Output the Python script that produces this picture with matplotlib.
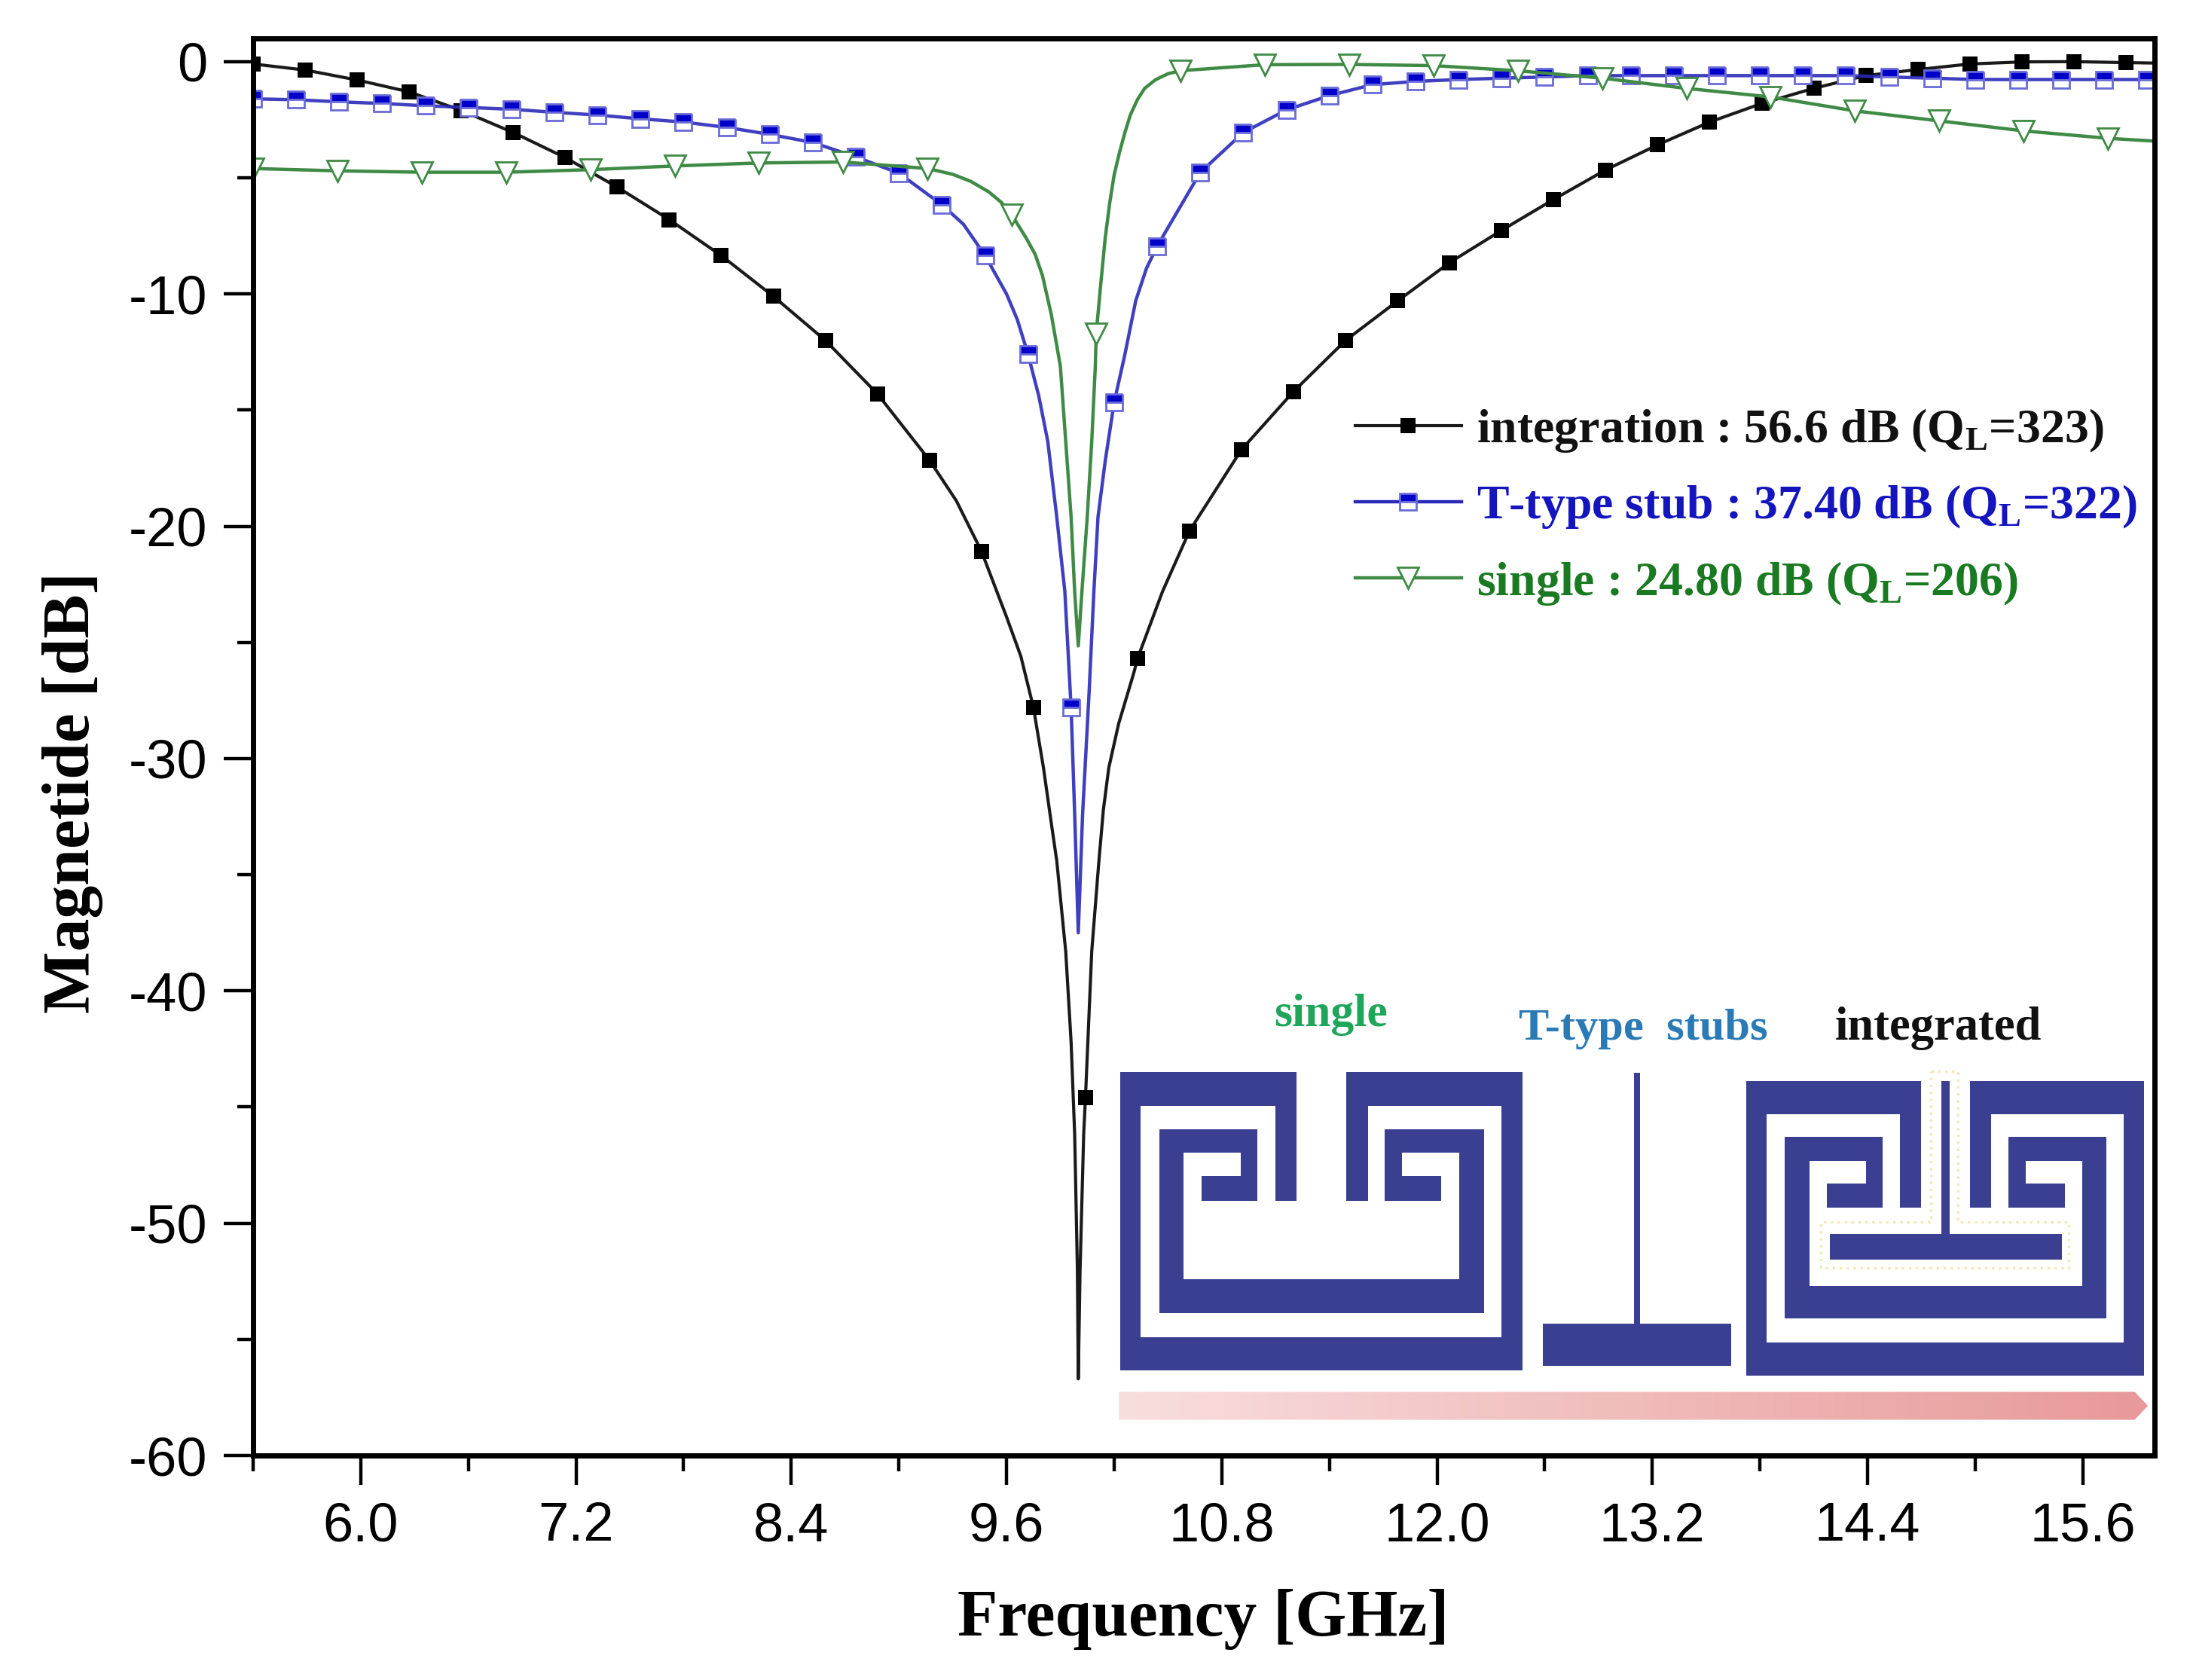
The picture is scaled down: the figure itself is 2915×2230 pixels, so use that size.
#!/usr/bin/env python3
"""Transmission response of single / T-type stub / integrated resonators."""

import matplotlib.pyplot as plt
import matplotlib
from matplotlib.lines import Line2D
from matplotlib.patches import Polygon
import numpy as np

matplotlib.rcParams['font.family'] = ['Liberation Sans', 'DejaVu Sans']
matplotlib.rcParams['axes.unicode_minus'] = False
matplotlib.rcParams['mathtext.fontset'] = 'custom'
matplotlib.rcParams['mathtext.bf'] = 'Liberation Serif:bold'
matplotlib.rcParams['mathtext.rm'] = 'Liberation Serif:bold'

# Marker positions
integ_f = [5.40, 5.69, 5.98, 6.27, 6.56, 6.85, 7.14, 7.43, 7.72, 8.01, 8.30, 8.59, 8.88,
           9.17, 9.46, 9.75, 10.04, 10.33, 10.62, 10.91, 11.20, 11.49, 11.78, 12.07,
           12.36, 12.65, 12.94, 13.23, 13.52, 13.81, 14.10, 14.39, 14.68, 14.97, 15.26,
           15.55, 15.84]
integ_db = [-0.10, -0.36, -0.79, -1.30, -2.10, -3.05, -4.13, -5.40, -6.80, -8.35, -10.1,
            -12.0, -14.3, -17.15, -21.07, -27.8, -44.6, -25.7, -20.2, -16.7, -14.2, -12.0,
            -10.3, -8.65, -7.26, -5.93, -4.66, -3.58, -2.60, -1.80, -1.15, -0.60, -0.34,
            -0.10, -0.01, 0.0, -0.04]
# Extra line-only points around the dip and at the right edge
integ_line_f = [9.32, 9.60, 9.68, 9.806, 9.85, 9.88, 9.93, 9.96, 9.98, 9.995, 10.0, 10.01,
                10.03, 10.075, 10.115, 10.14, 10.17, 10.225, 10.31, 10.47, 16.0]
integ_line_db = [-18.9, -23.9, -25.6, -30.4, -32.8, -34.4, -38.3, -42.2, -46.2, -52.0, -56.7,
                 -52.0, -46.2, -38.3, -34.4, -32.2, -30.4, -28.5, -26.3, -22.8, -0.06]

stub_f = [5.40, 5.64, 5.88, 6.12, 6.36, 6.60, 6.84, 7.08, 7.32, 7.56, 7.80, 8.04, 8.28,
          8.52, 8.76, 9.00, 9.24, 9.48, 9.72, 9.96, 10.20, 10.44, 10.68, 10.92, 11.16,
          11.40, 11.64, 11.88, 12.12, 12.36, 12.60, 12.84, 13.08, 13.32, 13.56, 13.80,
          14.04, 14.28, 14.52, 14.76, 15.00, 15.24, 15.48, 15.72, 15.96]
stub_db = [-1.60, -1.64, -1.73, -1.80, -1.90, -1.97, -2.05, -2.18, -2.30, -2.46, -2.60,
           -2.83, -3.13, -3.48, -4.10, -4.80, -6.16, -8.34, -12.6, -27.8, -14.67, -7.94,
           -4.77, -3.05, -2.08, -1.46, -0.99, -0.85, -0.77, -0.71, -0.66, -0.60, -0.60,
           -0.60, -0.60, -0.60, -0.60, -0.60, -0.66, -0.71, -0.77, -0.77, -0.77, -0.77,
           -0.77]
stub_line_f = [9.36, 9.60, 9.66, 9.78, 9.83, 9.88, 9.925, 9.98, 10.0, 10.024, 10.06, 10.087,
               10.11, 10.15, 10.26, 10.32, 10.38, 16.0]
stub_line_db = [-7.0, -10.0, -11.1, -14.4, -16.35, -19.6, -22.8, -32.4, -37.5, -32.4, -27.2,
                -22.8, -19.6, -17.2, -12.6, -10.3, -8.9, -0.77]

single_f = [5.40, 5.87, 6.34, 6.81, 7.28, 7.75, 8.22, 8.69, 9.16, 9.63, 10.10, 10.57,
            11.04, 11.51, 11.98, 12.45, 12.92, 13.39, 13.86, 14.33, 14.80, 15.27, 15.74]
single_db = [-4.60, -4.70, -4.76, -4.76, -4.65, -4.49, -4.36, -4.32, -4.60, -6.60, -11.7,
             -0.39, -0.13, -0.12, -0.17, -0.39, -0.71, -1.15, -1.52, -2.12, -2.55, -2.98,
             -3.30]
single_line_f = [9.30, 9.40, 9.50, 9.57, 9.71, 9.76, 9.80, 9.85, 9.90, 9.93, 9.96, 9.98, 10.0,
                 10.02, 10.05, 10.075, 10.095, 10.125, 10.15, 10.175, 10.20, 10.23, 10.26,
                 10.29, 10.33, 10.37, 10.43, 10.50, 16.0]
single_line_db = [-4.85, -5.15, -5.6, -6.05, -7.6, -8.3, -9.2, -10.9, -13.1, -16.35, -19.6,
                  -22.84, -25.15, -22.84, -19.6, -16.35, -13.1, -9.6, -7.6, -6.1, -4.87, -3.9,
                  -3.05, -2.3, -1.63, -1.15, -0.78, -0.52, -3.42]

x_major = [6.0, 7.2, 8.4, 9.6, 10.8, 12.0, 13.2, 14.4, 15.6]
x_minor = [5.4, 6.6, 7.8, 9.0, 10.2, 11.4, 12.6, 13.8, 15.0]
y_major = [0, -10, -20, -30, -40, -50, -60]
y_minor = [-5, -15, -25, -35, -45, -55]

legend_labels = [r'integration : 56.6 dB (Q$_{\mathbf{L}}$=323)',
                 r'T-type stub : 37.40 dB (Q$_{\mathbf{L}}$=322)',
                 r'single : 24.80 dB (Q$_{\mathbf{L}}$=206)']

BLACK = '#1a1a1a'
BLUE = '#2a2ab8'
GREEN = '#3f8a45'
NAVY = '#3a3f92'
SERIF = ['Liberation Serif', 'DejaVu Serif']
W, H = 2915, 2230


def merged(f, db, extra_f, extra_db):
    f_all = np.array(f + extra_f)
    db_all = np.array(db + extra_db)
    order = np.argsort(f_all)
    return f_all[order], db_all[order]


fig = plt.figure(figsize=(W / 100, H / 100), dpi=100, facecolor='white')
ax = fig.add_axes([336 / W, 1 - 1932 / H, (2860 - 336) / W, (1932 - 51) / H])

# --- Curves: thin line plus separate marker layer ---
ax.plot(*merged(integ_f, integ_db, integ_line_f, integ_line_db), color=BLACK, lw=3.0)
ax.plot(integ_f, integ_db, ls='none', marker='s', ms=15, color='black', mew=0)

ax.plot(*merged(stub_f, stub_db, stub_line_f, stub_line_db), color=BLUE, lw=3.2, alpha=0.9)
ax.plot(stub_f, stub_db, ls='none', marker='s', ms=16, fillstyle='top',
        markerfacecolor='#0000c8', markerfacecoloralt='white',
        markeredgecolor='#6a6ad8', mew=2)

ax.plot(*merged(single_f, single_db, single_line_f, single_line_db), color=GREEN, lw=3.2)
ax.plot(single_f, single_db, ls='none', marker='v', ms=20, markerfacecolor='white',
        markeredgecolor=GREEN, mew=2)

ax.set_xlim(5.4, 16.0)
ax.set_ylim(-60, 1)
ax.set_xticks(x_major)
ax.set_xticklabels([f'{v:.1f}' for v in x_major])
ax.set_xticks(x_minor, minor=True)
ax.set_yticks(y_major)
ax.set_yticklabels([str(v) for v in y_major])
ax.set_yticks(y_minor, minor=True)
ax.tick_params(which='major', direction='out', length=28, width=3.2, labelsize=52, pad=16)
ax.tick_params(which='minor', direction='out', length=15, width=3.2)
for spine in ax.spines.values():
    spine.set_linewidth(5)

ax.set_xlabel('Frequency [GHz]', family=SERIF, fontweight='bold', fontsize=63)
ax.xaxis.set_label_coords(0.4996, -0.094, transform=ax.transAxes)
ax.set_ylabel('Magnetide [dB]', family=SERIF, fontweight='bold', fontsize=63)
ax.yaxis.set_label_coords(-0.079, 0.468, transform=ax.transAxes)

# --- Legend ---
handles = [Line2D([], [], color=BLACK, lw=3.0, marker='s', ms=15, mew=0, mfc='black'),
           Line2D([], [], color=BLUE, lw=3.2, marker='s', ms=16, fillstyle='top',
                  mfc='#0000c8', markerfacecoloralt='white', mec='#6a6ad8', mew=2),
           Line2D([], [], color=GREEN, lw=3.2, marker='v', ms=20, mfc='white',
                  mec=GREEN, mew=2)]
leg = ax.legend(handles, legend_labels, loc='upper left', frameon=False, numpoints=1,
                bbox_to_anchor=(1799 / W, 1 - 540 / H), bbox_transform=fig.transFigure,
                borderaxespad=0, borderpad=0, handlelength=2.2, handletextpad=0.32,
                labelspacing=0.6, prop={'family': SERIF, 'weight': 'bold', 'size': 46})
for text, color in zip(leg.get_texts(), ['#111111', '#1515c0', '#1a7a22']):
    text.set_color(color)

# --- Resonator sketch, drawn on an overlay in picture pixels ---
sk = fig.add_axes([0, 0, 1, 1], facecolor='none')
sk.axis('off')


def to_px(pts):
    # outlines were traced on a stretched crop of the lower right corner
    return [(1400 + x * 0.9687, 1280 + y * 0.421) for x, y in pts]


single_outer = [(90, 340), (331, 340), (331, 745), (302, 745), (302, 447), (118, 447),
                (118, 1175), (612, 1175), (612, 447), (429, 447), (429, 745), (399, 745),
                (399, 340), (641, 340), (641, 1280), (90, 1280)]
single_inner = [(143, 520), (278, 520), (278, 745), (201, 745), (201, 668), (255, 668),
                (255, 595), (177, 595), (177, 993), (554, 993), (554, 595), (476, 595),
                (476, 668), (530, 668), (530, 745), (452, 745), (452, 520), (588, 520),
                (588, 1100), (143, 1100)]
integ_outer = [(948, 367), (1187, 367), (1187, 767), (1158, 767), (1158, 473), (976, 473),
               (976, 1192), (1465, 1192), (1465, 473), (1283, 473), (1283, 767),
               (1254, 767), (1254, 367), (1493, 367), (1493, 1297), (948, 1297)]
integ_inner = [(1000, 545), (1135, 545), (1135, 767), (1058, 767), (1058, 692), (1112, 692),
               (1112, 620), (1034, 620), (1034, 1015), (1408, 1015), (1408, 620),
               (1331, 620), (1331, 692), (1384, 692), (1384, 767), (1307, 767),
               (1307, 545), (1441, 545), (1441, 1117), (1000, 1117)]
t_stub = [(794, 343), (802, 343), (802, 1132), (927, 1132), (927, 1266), (669, 1266),
          (669, 1132), (794, 1132)]
t_inner = [(1215, 367), (1226, 367), (1226, 850), (1380, 850), (1380, 930), (1062, 930),
           (1062, 850), (1215, 850)]
t_halo = [(1201, 338), (1238, 338), (1238, 812), (1390, 812), (1390, 958), (1050, 958),
          (1050, 812), (1201, 812)]
arrow = [(88, 1348), (1480, 1348), (1498, 1392), (1480, 1436), (88, 1436)]

for shape in [single_outer, single_inner, integ_outer, integ_inner, t_stub, t_inner]:
    sk.add_patch(Polygon(to_px(shape), closed=True, facecolor=NAVY, edgecolor='none'))
sk.add_patch(Polygon(to_px(t_halo), closed=True, facecolor='none', edgecolor='#f5e8b8',
                     lw=2.5, ls=':'))

# gradient bar with arrow tip
arrow_px = to_px(arrow)
shade = np.linspace(0, 1, 256).reshape(1, -1, 1)
rgb = (1 - shade) * np.array([0.975, 0.87, 0.87]) + shade * np.array([0.91, 0.60, 0.60])
img = sk.imshow(rgb, extent=(arrow_px[0][0], arrow_px[2][0], arrow_px[3][1], arrow_px[0][1]),
                aspect='auto', zorder=1)
clip = Polygon(arrow_px, closed=True, transform=sk.transData, facecolor='none', edgecolor='none')
sk.add_patch(clip)
img.set_clip_path(clip)

sk.set_xlim(0, W)
sk.set_ylim(H, 0)

sk.text(1767, 1347, 'single', color='#1fa65a', family=SERIF, fontweight='bold', fontsize=44.5,
        ha='center', va='center')
sk.text(2181, 1366, 'T-type  stubs', color='#2a7ab5', family=SERIF, fontweight='bold',
        fontsize=43.5, ha='center', va='center')
sk.text(2573, 1365, 'integrated', color='#111111', family=SERIF, fontweight='bold', fontsize=45,
        ha='center', va='center')

plt.savefig('out.png', dpi=100, facecolor='white')
print("Saved figure")
